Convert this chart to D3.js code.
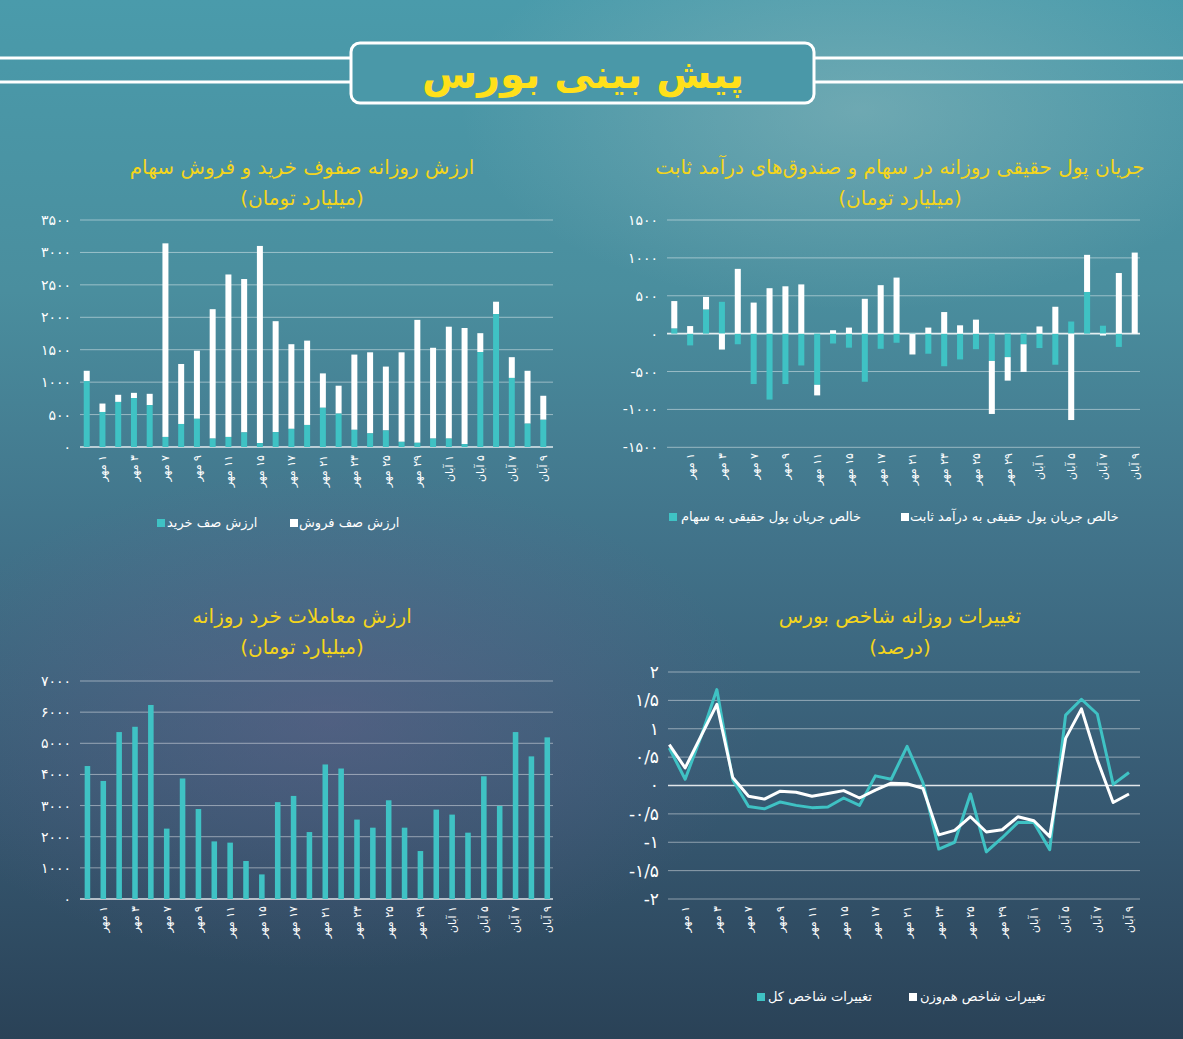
<!DOCTYPE html>
<html><head><meta charset="utf-8">
<script src="https://cdn.jsdelivr.net/npm/d3@7"></script>
<style>body{margin:0;overflow:hidden;background:#2d4358}svg{display:block}text{font-family:"DejaVu Sans","Noto Sans",sans-serif}</style>
</head><body><svg id="c" width="1183" height="1039"></svg>
<script>
const dates = ["۳۰ شهریور","۱ مهر","۲ مهر","۳ مهر","۶ مهر","۷ مهر","۸ مهر","۹ مهر","۱۰ مهر","۱۱ مهر","۱۴ مهر","۱۵ مهر","۱۶ مهر","۱۷ مهر","۲۰ مهر","۲۱ مهر","۲۲ مهر","۲۳ مهر","۲۴ مهر","۲۵ مهر","۲۸ مهر","۲۹ مهر","۳۰ مهر","۱ آبان","۴ آبان","۵ آبان","۶ آبان","۷ آبان","۸ آبان","۹ آبان"];
const queueBuy  = [1015,540,695,755,645,155,355,435,130,155,225,60,230,280,340,605,515,265,210,255,80,65,130,130,45,1465,2050,1065,360,420];
const queueSell = [160,130,110,80,175,2985,925,1050,1995,2505,2365,3040,1710,1305,1300,530,430,1160,1250,985,1380,1895,1400,1725,1790,290,190,320,815,370];
const flowEquity = [70,-155,320,420,-140,-665,-870,-665,-420,-675,-130,-185,-635,-200,-120,-5,-265,-430,-340,-205,-360,-310,-140,-190,-410,160,550,105,-175,0];
const flowFixed  = [360,100,165,-210,855,410,600,625,650,-140,45,80,460,640,740,-270,80,285,110,185,-700,-310,-365,95,355,-1140,490,-25,800,1070];
const retailValue = [4270,3790,5360,5530,6230,2260,3870,2890,1850,1810,1220,790,3110,3310,2150,4320,4190,2550,2290,3170,2290,1540,2870,2710,2130,3940,2990,5360,4580,5190];
const indexTotal = [0.66,0.11,0.86,1.69,0.10,-0.37,-0.41,-0.29,-0.35,-0.39,-0.38,-0.22,-0.35,0.17,0.11,0.69,0.05,-1.12,-1.0,-0.15,-1.17,-0.92,-0.65,-0.65,-1.13,1.24,1.52,1.26,0.02,0.23];
const indexEqual = [0.72,0.31,0.87,1.43,0.14,-0.19,-0.24,-0.10,-0.12,-0.19,-0.14,-0.09,-0.22,-0.08,0.04,0.03,-0.05,-0.87,-0.79,-0.55,-0.82,-0.78,-0.55,-0.62,-0.90,0.83,1.35,0.45,-0.30,-0.15];
const ticks1 = [0,500,1000,1500,2000,2500,3000,3500];
const ticks2 = [-1500,-1000,-500,0,500,1000,1500];
const ticks3 = [0,1000,2000,3000,4000,5000,6000,7000];
const ticks4 = [-2,-1.5,-1,-0.5,0,0.5,1,1.5,2];
const titles = {
  c1:["ارزش روزانه صفوف خرید و فروش سهام","(میلیارد تومان)"],
  c2:["جریان پول حقیقی روزانه در سهام و صندوق‌های درآمد ثابت","(میلیارد تومان)"],
  c3:["ارزش معاملات خرد روزانه","(میلیارد تومان)"],
  c4:["تغییرات روزانه شاخص بورس","(درصد)"]
};
const legends = {
  c1:[["ارزش صف خرید","teal"],["ارزش صف فروش","white"]],
  c2:[["خالص جریان پول حقیقی به سهام","teal"],["خالص جریان پول حقیقی به درآمد ثابت","white"]],
  c4:[["تغییرات شاخص کل","teal"],["تغییرات شاخص هم‌وزن","white"]]
};

const TEAL = "#3fc2c4", YEL = "#f4d51c";
const fa = s => String(s).replace(/[0-9]/g, d => "۰۱۲۳۴۵۶۷۸۹"[d]).replace(/\./g, "/");
const svg = d3.select("#c");

// background
const defs = svg.append("defs");
const lg = defs.append("linearGradient").attr("id","bg").attr("x1",0).attr("y1",0).attr("x2",0).attr("y2",1);
[[0,"#4a9bab"],[0.28,"#4a8e9e"],[0.52,"#41738a"],[0.76,"#375a73"],[1,"#2a4257"]].forEach(([o,c])=>lg.append("stop").attr("offset",o).attr("stop-color",c));
const rg1 = defs.append("radialGradient").attr("id","pur").attr("cx",0.5).attr("cy",0.5).attr("r",0.5);
rg1.append("stop").attr("offset",0).attr("stop-color","#6b5f8c").attr("stop-opacity",0.45);
rg1.append("stop").attr("offset",1).attr("stop-color","#6b5f8c").attr("stop-opacity",0);
const rg2 = defs.append("radialGradient").attr("id","lite").attr("cx",0.5).attr("cy",0.5).attr("r",0.5);
rg2.append("stop").attr("offset",0).attr("stop-color","#a4c4c4").attr("stop-opacity",0.4);
rg2.append("stop").attr("offset",1).attr("stop-color","#a4c4c4").attr("stop-opacity",0);
svg.append("rect").attr("width",1183).attr("height",1039).attr("fill","url(#bg)");
svg.append("ellipse").attr("cx",330).attr("cy",720).attr("rx",430).attr("ry",250).attr("fill","url(#pur)");
svg.append("ellipse").attr("cx",860).attr("cy",110).attr("rx",400).attr("ry",200).attr("fill","url(#lite)");

// header
[58,82].forEach(y=>{
  svg.append("line").attr("x1",0).attr("x2",351).attr("y1",y).attr("y2",y).attr("stroke","#fff").attr("stroke-width",3);
  svg.append("line").attr("x1",814).attr("x2",1183).attr("y1",y).attr("y2",y).attr("stroke","#fff").attr("stroke-width",3);
});
svg.append("rect").attr("x",351).attr("y",43).attr("width",463).attr("height",60).attr("rx",9)
  .attr("fill","#4a98a8").attr("stroke","#fff").attr("stroke-width",3);
svg.append("text").attr("x",583).attr("y",88).attr("text-anchor","middle").attr("fill","#ffe01a")
  .attr("font-size",40).attr("font-weight","bold").text("پیش بینی بورس");

function title(key, cx, y){
  titles[key].forEach((t,i)=>svg.append("text").attr("x",cx).attr("y",y+i*31).attr("text-anchor","middle")
    .attr("fill",YEL).attr("font-size",20).attr("direction","rtl").text(t));
}
function grid(y, ticks, x0, x1, fs){
  const g = svg.append("g");
  ticks.forEach(t=>g.append("line").attr("x1",x0).attr("x2",x1).attr("y1",y(t)).attr("y2",y(t))
    .attr("stroke","#fff").attr("stroke-opacity",t===0?0.85:0.45).attr("stroke-width",t===0?1.6:1));
  const ax = svg.append("g").attr("transform",`translate(${x0-6},0)`)
    .call(d3.axisLeft(y).tickValues(ticks).tickSize(0).tickFormat(fa));
  ax.select(".domain").remove();
  ax.selectAll("text").attr("fill","#fff").attr("font-size",fs).attr("font-family","DejaVu Sans");
}
function xlabels(x, yTop){
  const g = svg.append("g");
  dates.forEach((d,i)=>{
    if(i%2!==1) return;
    const cx = x(i) + (x.bandwidth?x.bandwidth()/2:0);
    g.append("text").attr("transform",`translate(${cx},${yTop}) rotate(-90)`)
      .attr("direction","rtl").attr("text-anchor","start").attr("dy","0.35em")
      .attr("fill","#fff").attr("font-size",11).text(d);
  });
}
function legend(key, items, y){
  items.forEach(([sx,tx],i)=>{
    const [label,col] = legends[key][i];
    svg.append("rect").attr("x",sx).attr("y",y-8).attr("width",8).attr("height",8).attr("fill",col==="teal"?TEAL:"#fff");
    svg.append("text").attr("x",tx).attr("y",y).attr("fill","#fff").attr("font-size",13).text(label);
  });
}

// Chart 1: stacked queues
{
  const x = d3.scaleBand().domain(d3.range(dates.length)).range([79,551]).paddingInner(0.62).paddingOuter(0.3);
  const y = d3.scaleLinear().domain([0,3500]).range([447,220]);
  grid(y, ticks1, 80, 553, 14);
  const g = svg.append("g");
  g.selectAll(".s").data(queueSell).join("rect").attr("x",(d,i)=>x(i)).attr("width",x.bandwidth())
    .attr("y",(d,i)=>y(queueBuy[i]+d)).attr("height",(d,i)=>y(queueBuy[i])-y(queueBuy[i]+d)).attr("fill","#fff");
  g.selectAll(".b").data(queueBuy).join("rect").attr("x",(d,i)=>x(i)).attr("width",x.bandwidth())
    .attr("y",d=>y(d)).attr("height",d=>y(0)-y(d)).attr("fill",TEAL);
  xlabels(x, 455);
  title("c1", 302, 174);
  legend("c1", [[157,167],[290,299]], 527);
}
// Chart 2: net flows (stacked, pos/neg separately)
{
  const x = d3.scaleBand().domain(d3.range(dates.length)).range([666.5,1142.5]).paddingInner(0.62).paddingOuter(0.3);
  const y = d3.scaleLinear().domain([-1500,1500]).range([447.3,220]);
  grid(y, ticks2, 667, 1140, 14);
  const g = svg.append("g");
  dates.forEach((d,i)=>{
    let pos=0, neg=0;
    [[flowEquity[i],TEAL],[flowFixed[i],"#fff"]].forEach(([v,c])=>{
      let a,b;
      if(v>=0){a=pos;b=pos+v;pos=b;} else {a=neg;b=neg+v;neg=b;}
      g.append("rect").attr("x",x(i)).attr("width",x.bandwidth())
        .attr("y",y(Math.max(a,b))).attr("height",Math.abs(y(a)-y(b))).attr("fill",c);
    });
  });
  xlabels(x, 453);
  title("c2", 900, 174);
  legend("c2", [[669,681],[901,910]], 521);
}
// Chart 3: retail value
{
  const x = d3.scaleBand().domain(d3.range(dates.length)).range([79.9,554.8]).paddingInner(0.65).paddingOuter(0.3);
  const y = d3.scaleLinear().domain([0,7000]).range([899,681]);
  grid(y, ticks3, 80, 553, 14);
  svg.append("g").selectAll("rect").data(retailValue).join("rect").attr("x",(d,i)=>x(i)).attr("width",x.bandwidth())
    .attr("y",d=>y(d)).attr("height",d=>y(0)-y(d)).attr("fill",TEAL);
  xlabels(x, 906);
  title("c3", 302, 623);
}
// Chart 4: index changes
{
  const x = d3.scalePoint().domain(d3.range(dates.length)).range([669.3,1129]);
  const y = d3.scaleLinear().domain([-2,2]).range([899,672]);
  grid(y, ticks4, 668, 1140, 17);
  const line = d3.line().x((d,i)=>x(i)).y(d=>y(d));
  svg.append("path").datum(indexTotal).attr("d",line).attr("fill","none").attr("stroke",TEAL).attr("stroke-width",3).attr("stroke-linejoin","round");
  svg.append("path").datum(indexEqual).attr("d",line).attr("fill","none").attr("stroke","#fff").attr("stroke-width",3).attr("stroke-linejoin","round");
  xlabels(x, 906);
  title("c4", 900, 623);
  legend("c4", [[757,768],[909,920]], 1001);
}
</script></body></html>
